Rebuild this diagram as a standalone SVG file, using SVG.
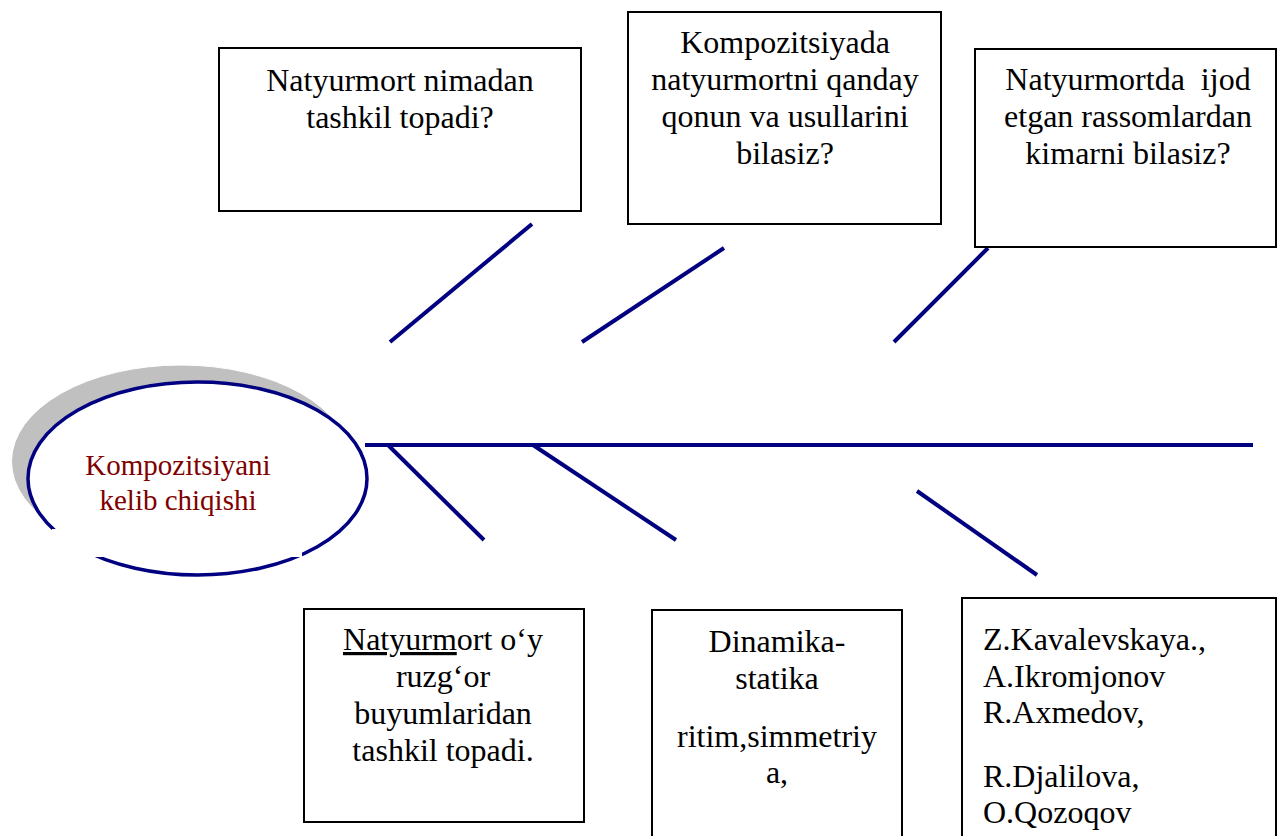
<svg xmlns="http://www.w3.org/2000/svg" width="1277" height="836" viewBox="0 0 1277 836">
<style>
.box{fill:#fff;stroke:#000;stroke-width:2}
.t{font-family:"Liberation Serif","Times New Roman",serif;font-size:32px;fill:#000}
.c{text-anchor:middle}
.ln{stroke:#000080;stroke-width:4;fill:none}
.et{font-family:"Liberation Serif","Times New Roman",serif;font-size:29px;fill:#800000;text-anchor:middle}
</style>
<rect width="1277" height="836" fill="#fff"/>
<g id="center">
<ellipse cx="181" cy="461.5" rx="169.5" ry="96.5" fill="#c0c0c0" stroke="#fff" stroke-width="1"/>
<ellipse cx="197.5" cy="478.5" rx="169.5" ry="96.5" fill="#fff" stroke="#000080" stroke-width="3.5"/>
<rect x="52" y="529" width="250" height="28" fill="#fff"/>
<text class="et" x="178" y="475">Kompozitsiyani</text>
<text class="et" x="178" y="510">kelib chiqishi</text>
</g>
<g id="connectors">
<line class="ln" x1="365" y1="445" x2="1253" y2="445"/>
<line class="ln" x1="390" y1="342" x2="532" y2="224"/>
<line class="ln" x1="582" y1="342" x2="724" y2="248"/>
<line class="ln" x1="894" y1="342" x2="988" y2="248"/>
<line class="ln" x1="388" y1="445" x2="484" y2="540"/>
<line class="ln" x1="533" y1="445" x2="676" y2="540"/>
<line class="ln" x1="917" y1="491" x2="1037" y2="575"/>
</g>
<g id="q1">
<rect class="box" x="219" y="48" width="362" height="163"/>
<text class="t c" x="400" y="91">Natyurmort nimadan</text>
<text class="t c" x="400" y="128">tashkil topadi?</text>
</g>
<g id="q2">
<rect class="box" x="628" y="12" width="313" height="212"/>
<text class="t c" x="785" y="53">Kompozitsiyada</text>
<text class="t c" x="785" y="90">natyurmortni qanday</text>
<text class="t c" x="785" y="127">qonun va usullarini</text>
<text class="t c" x="785" y="164">bilasiz?</text>
</g>
<g id="q3">
<rect class="box" x="975" y="49" width="301" height="198"/>
<text class="t c" x="1128" y="90" xml:space="preserve">Natyurmortda  ijod</text>
<text class="t c" x="1128" y="127">etgan rassomlardan</text>
<text class="t c" x="1128" y="164">kimarni bilasiz?</text>
</g>
<g id="a1">
<rect class="box" x="304" y="609" width="280" height="213"/>
<text class="t c" x="443" y="650"><tspan text-decoration="underline">Natyurm</tspan>ort o‘y</text>
<text class="t c" x="443" y="687">ruzg‘or</text>
<text class="t c" x="443" y="724">buyumlaridan</text>
<text class="t c" x="443" y="761">tashkil topadi.</text>
</g>
<g id="a2">
<rect class="box" x="652" y="610" width="250" height="240"/>
<text class="t c" x="777" y="652">Dinamika-</text>
<text class="t c" x="777" y="689">statika</text>
<text class="t c" x="777" y="747">ritim,simmetriy</text>
<text class="t c" x="777" y="783">a,</text>
</g>
<g id="a3">
<rect class="box" x="962" y="598" width="314" height="250"/>
<text class="t" x="983" y="650">Z.Kavalevskaya.,</text>
<text class="t" x="983" y="687">A.Ikromjonov</text>
<text class="t" x="983" y="723">R.Axmedov,</text>
<text class="t" x="983" y="787">R.Djalilova,</text>
<text class="t" x="983" y="823">O.Qozoqov</text>
</g>
</svg>
